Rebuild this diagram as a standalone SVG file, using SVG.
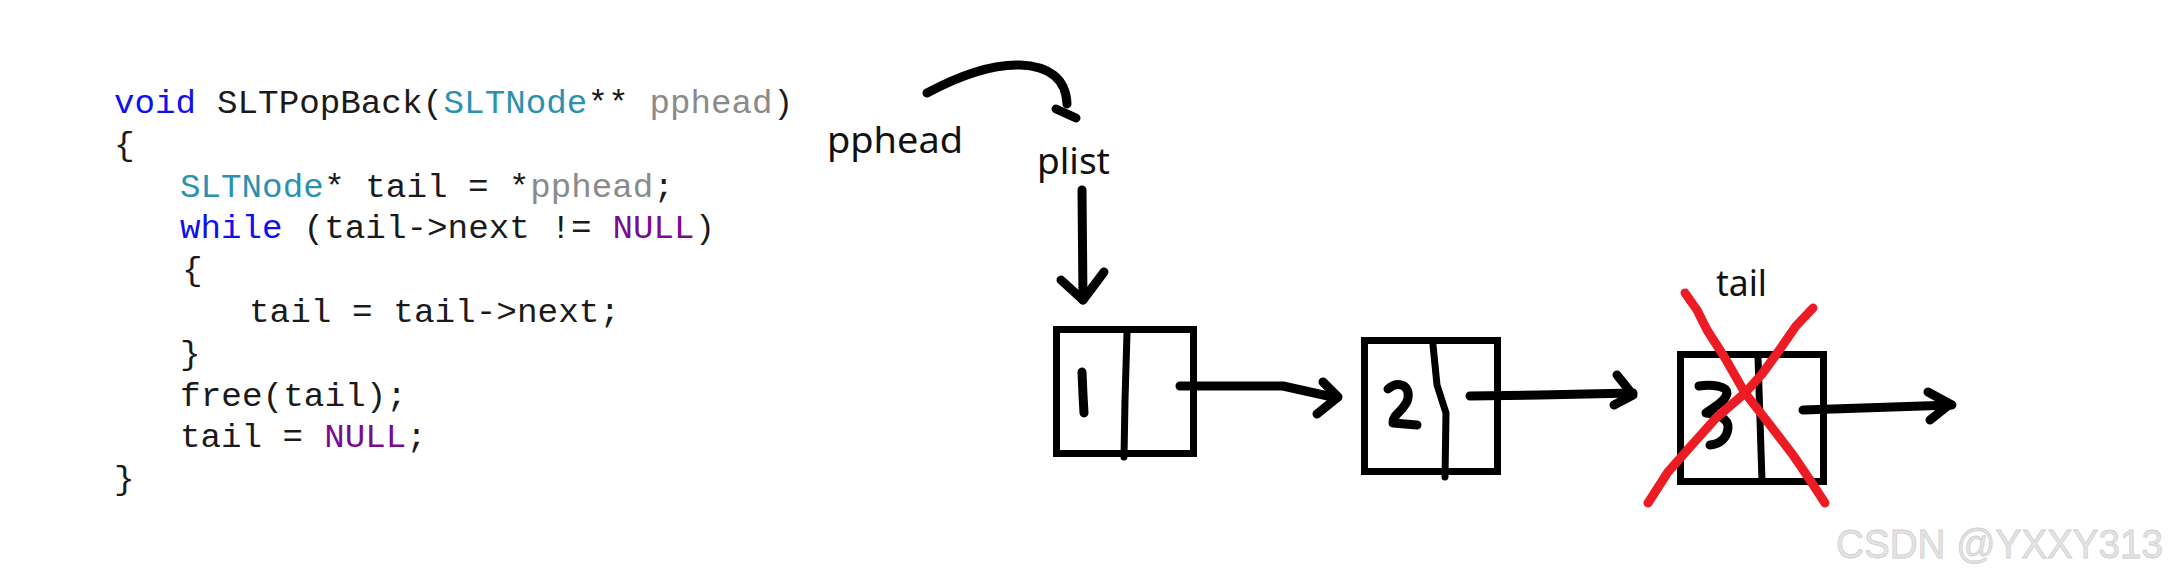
<svg xmlns="http://www.w3.org/2000/svg" width="2171" height="581" viewBox="0 0 2171 581">
<style>
.code text{font-family:"Liberation Mono","DejaVu Sans Mono",monospace;font-size:33.5px;fill:#1a1a1a}
.code text.kw{fill:#1010ee}
.code text.ty{fill:#2b91af}
.code text.pa{fill:#8a8a8a}
.code text.mac{fill:#7a0a90}
.lbl{font-family:"Noto Sans","Open Sans",sans-serif;font-size:37px;fill:#111}
.box{fill:none;stroke:#000;stroke-width:7}
.div{fill:none;stroke:#000;stroke-width:7;stroke-linecap:round;stroke-linejoin:round}
.ink{fill:none;stroke:#000;stroke-width:9;stroke-linecap:round;stroke-linejoin:round}
.red{fill:none;stroke:#ed1c24;stroke-width:9;stroke-linecap:round;stroke-linejoin:round}
.wm{font-family:"Liberation Sans",Arial,sans-serif;font-size:40px;fill:#e4e4e4;stroke:#cfcfcf;stroke-width:0.8}
</style>
<rect width="2171" height="581" fill="#ffffff"/>
<g id="code" class="code">
<text class="kw" x="114" y="113" textLength="82" lengthAdjust="spacingAndGlyphs">void</text>
<text x="217" y="113" textLength="226" lengthAdjust="spacingAndGlyphs">SLTPopBack(</text>
<text class="ty" x="443.6" y="113" textLength="143.7" lengthAdjust="spacingAndGlyphs">SLTNode</text>
<text x="587.8" y="113" textLength="40.7" lengthAdjust="spacingAndGlyphs">**</text>
<text class="pa" x="649.6" y="113" textLength="123" lengthAdjust="spacingAndGlyphs">pphead</text>
<text x="773.2" y="113" textLength="20" lengthAdjust="spacingAndGlyphs">)</text>
<text x="114" y="155" textLength="20.6" lengthAdjust="spacingAndGlyphs">{</text>
<text class="ty" x="180" y="197" textLength="143.7" lengthAdjust="spacingAndGlyphs">SLTNode</text>
<text x="324.2" y="197" textLength="205.5" lengthAdjust="spacingAndGlyphs">* tail = *</text>
<text class="pa" x="530.2" y="197" textLength="123" lengthAdjust="spacingAndGlyphs">pphead</text>
<text x="653.8" y="197" textLength="20" lengthAdjust="spacingAndGlyphs">;</text>
<text class="kw" x="180" y="238" textLength="102.5" lengthAdjust="spacingAndGlyphs">while</text>
<text x="303.6" y="238" textLength="288" lengthAdjust="spacingAndGlyphs">(tail-&gt;next !=</text>
<text class="mac" x="612.6" y="238" textLength="82" lengthAdjust="spacingAndGlyphs">NULL</text>
<text x="695" y="238" textLength="20" lengthAdjust="spacingAndGlyphs">)</text>
<text x="182" y="280" textLength="20.6" lengthAdjust="spacingAndGlyphs">{</text>
<text x="249" y="322" textLength="371" lengthAdjust="spacingAndGlyphs">tail = tail-&gt;next;</text>
<text x="180" y="364" textLength="20.6" lengthAdjust="spacingAndGlyphs">}</text>
<text x="180" y="406" textLength="227" lengthAdjust="spacingAndGlyphs">free(tail);</text>
<text x="180" y="447" textLength="123" lengthAdjust="spacingAndGlyphs">tail =</text>
<text class="mac" x="324.2" y="447" textLength="82" lengthAdjust="spacingAndGlyphs">NULL</text>
<text x="406.6" y="447" textLength="20" lengthAdjust="spacingAndGlyphs">;</text>
<text x="114" y="489" textLength="20.6" lengthAdjust="spacingAndGlyphs">}</text>
</g>
<g id="label-pphead"><text class="lbl" x="827" y="153" textLength="136" lengthAdjust="spacingAndGlyphs">pphead</text></g>
<g id="label-plist"><text class="lbl" x="1037" y="174" textLength="73" lengthAdjust="spacingAndGlyphs">plist</text></g>
<g id="label-tail"><text class="lbl" x="1716" y="296" textLength="51" lengthAdjust="spacingAndGlyphs">tail</text></g>
<g id="node1">
<rect class="box" x="1056.5" y="329.5" width="137" height="124"/>
<path class="div" d="M1127,333 L1125,400 L1124,457"/>
<path class="ink" d="M1082,372 L1083,395 L1084,413"/>
</g>
<g id="node2">
<rect class="box" x="1364.5" y="340.5" width="133" height="131"/>
<path class="div" d="M1433,345 L1437,385 L1446,413 L1445,477"/>
<path class="ink" d="M1388,389 C1397,381 1410,384 1408,398 C1406,410 1392,414 1393,423 L1417,425"/>
</g>
<g id="node3">
<rect class="box" x="1680.5" y="354.5" width="143" height="127"/>
<path class="div" d="M1758,357 L1760,420 L1762,481"/>
<path class="ink" d="M1699,386 C1712,384 1727,386 1727,393 C1726,402 1712,408 1706,413 C1716,414 1729,418 1728,428 C1727,438 1720,444 1710,445"/>
</g>
<g id="connectors">
<path class="ink" d="M927,93 C955,78 990,64 1020,65 C1048,66 1066,78 1067,104"/>
<path class="ink" stroke-width="11" d="M1056,109 L1076,118"/>
<path class="ink" d="M1082,190 L1083,300"/>
<path class="ink" d="M1061,280 L1083,300 L1104,272"/>
<path class="ink" d="M1180,386 L1283,386 Q1310,392 1337,398"/>
<path class="ink" d="M1323,382 L1338,397 L1317,414"/>
<path class="ink" d="M1470,396 L1540,395 L1633,393"/>
<path class="ink" d="M1617,375 L1633,395 L1614,405"/>
<path class="ink" d="M1803,410 L1952,405"/>
<path class="ink" d="M1928,392 L1950,404 L1930,420"/>
</g>
<g id="cross">
<path class="red" d="M1685,293 L1697,310 L1707,330 L1725,358 L1745,393 L1770,425 L1793,455 L1810,480 L1825,503"/>
<path class="red" d="M1813,308 L1796,326 L1778,352 L1762,374 L1745,393 L1716,418 L1690,447 L1668,472 L1648,503"/>
</g>
<g id="watermark"><text class="wm" x="1836" y="558" textLength="327" lengthAdjust="spacingAndGlyphs">CSDN @YXXY313</text></g>
</svg>
